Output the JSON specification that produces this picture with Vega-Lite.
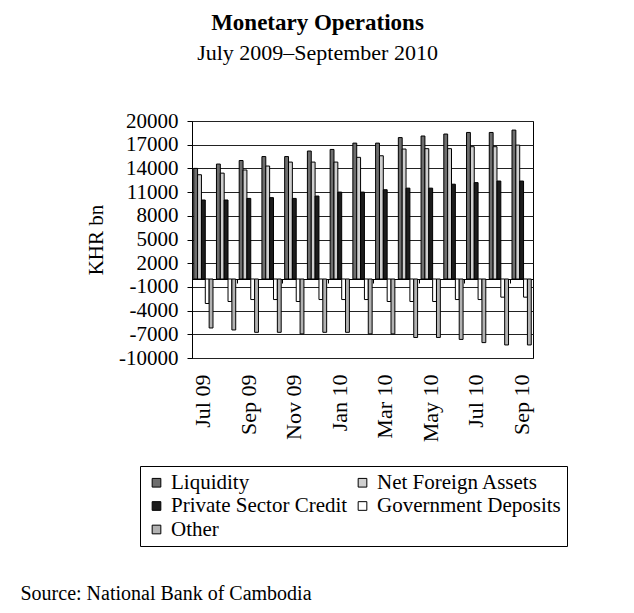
{
  "$schema": "https://vega.github.io/schema/vega-lite/v6.json",
  "autosize": {"type": "none"},
  "width": 341,
  "height": 237,
  "padding": {"left": 192, "top": 121, "right": 101, "bottom": 255},
  "background": "white",
  "config": {
    "font": "Liberation Serif",
    "view": {"stroke": "black", "strokeWidth": 1},
    "axis": {"labelColor": "black", "titleColor": "black", "labelFont": "Liberation Serif", "titleFont": "Liberation Serif"}
  },
  "title": {
    "text": "Monetary Operations",
    "subtitle": "July 2009\u2013September 2010",
    "font": "Liberation Serif",
    "fontSize": 23,
    "fontWeight": "bold",
    "color": "black",
    "subtitleFont": "Liberation Serif",
    "subtitleFontSize": 22,
    "subtitleColor": "black",
    "subtitlePadding": 8,
    "anchor": "middle",
    "dx": -45,
    "offset": 46
  },
  "data": {
    "values": [
      {"month": "Jul 09", "series": "Liquidity", "value": 14000},
      {"month": "Jul 09", "series": "Net Foreign Assets", "value": 13200},
      {"month": "Jul 09", "series": "Private Sector Credit", "value": 10000},
      {"month": "Jul 09", "series": "Government Deposits", "value": -3100},
      {"month": "Jul 09", "series": "Other", "value": -6200},
      {"month": "Aug 09", "series": "Liquidity", "value": 14550},
      {"month": "Aug 09", "series": "Net Foreign Assets", "value": 13400},
      {"month": "Aug 09", "series": "Private Sector Credit", "value": 10000},
      {"month": "Aug 09", "series": "Government Deposits", "value": -2850},
      {"month": "Aug 09", "series": "Other", "value": -6450},
      {"month": "Sep 09", "series": "Liquidity", "value": 15000},
      {"month": "Sep 09", "series": "Net Foreign Assets", "value": 13800},
      {"month": "Sep 09", "series": "Private Sector Credit", "value": 10200},
      {"month": "Sep 09", "series": "Government Deposits", "value": -2600},
      {"month": "Sep 09", "series": "Other", "value": -6750},
      {"month": "Oct 09", "series": "Liquidity", "value": 15500},
      {"month": "Oct 09", "series": "Net Foreign Assets", "value": 14300},
      {"month": "Oct 09", "series": "Private Sector Credit", "value": 10300},
      {"month": "Oct 09", "series": "Government Deposits", "value": -2600},
      {"month": "Oct 09", "series": "Other", "value": -6750},
      {"month": "Nov 09", "series": "Liquidity", "value": 15500},
      {"month": "Nov 09", "series": "Net Foreign Assets", "value": 14800},
      {"month": "Nov 09", "series": "Private Sector Credit", "value": 10200},
      {"month": "Nov 09", "series": "Government Deposits", "value": -2850},
      {"month": "Nov 09", "series": "Other", "value": -6950},
      {"month": "Dec 09", "series": "Liquidity", "value": 16200},
      {"month": "Dec 09", "series": "Net Foreign Assets", "value": 14800},
      {"month": "Dec 09", "series": "Private Sector Credit", "value": 10500},
      {"month": "Dec 09", "series": "Government Deposits", "value": -2600},
      {"month": "Dec 09", "series": "Other", "value": -6750},
      {"month": "Jan 10", "series": "Liquidity", "value": 16400},
      {"month": "Jan 10", "series": "Net Foreign Assets", "value": 14800},
      {"month": "Jan 10", "series": "Private Sector Credit", "value": 11000},
      {"month": "Jan 10", "series": "Government Deposits", "value": -2600},
      {"month": "Jan 10", "series": "Other", "value": -6750},
      {"month": "Feb 10", "series": "Liquidity", "value": 17200},
      {"month": "Feb 10", "series": "Net Foreign Assets", "value": 15400},
      {"month": "Feb 10", "series": "Private Sector Credit", "value": 11000},
      {"month": "Feb 10", "series": "Government Deposits", "value": -2600},
      {"month": "Feb 10", "series": "Other", "value": -6950},
      {"month": "Mar 10", "series": "Liquidity", "value": 17200},
      {"month": "Mar 10", "series": "Net Foreign Assets", "value": 15600},
      {"month": "Mar 10", "series": "Private Sector Credit", "value": 11300},
      {"month": "Mar 10", "series": "Government Deposits", "value": -2850},
      {"month": "Mar 10", "series": "Other", "value": -6950},
      {"month": "Apr 10", "series": "Liquidity", "value": 17900},
      {"month": "Apr 10", "series": "Net Foreign Assets", "value": 16450},
      {"month": "Apr 10", "series": "Private Sector Credit", "value": 11500},
      {"month": "Apr 10", "series": "Government Deposits", "value": -2850},
      {"month": "Apr 10", "series": "Other", "value": -7400},
      {"month": "May 10", "series": "Liquidity", "value": 18100},
      {"month": "May 10", "series": "Net Foreign Assets", "value": 16500},
      {"month": "May 10", "series": "Private Sector Credit", "value": 11500},
      {"month": "May 10", "series": "Government Deposits", "value": -2850},
      {"month": "May 10", "series": "Other", "value": -7400},
      {"month": "Jun 10", "series": "Liquidity", "value": 18350},
      {"month": "Jun 10", "series": "Net Foreign Assets", "value": 16500},
      {"month": "Jun 10", "series": "Private Sector Credit", "value": 12000},
      {"month": "Jun 10", "series": "Government Deposits", "value": -2600},
      {"month": "Jun 10", "series": "Other", "value": -7650},
      {"month": "Jul 10", "series": "Liquidity", "value": 18550},
      {"month": "Jul 10", "series": "Net Foreign Assets", "value": 16750},
      {"month": "Jul 10", "series": "Private Sector Credit", "value": 12200},
      {"month": "Jul 10", "series": "Government Deposits", "value": -2600},
      {"month": "Jul 10", "series": "Other", "value": -8050},
      {"month": "Aug 10", "series": "Liquidity", "value": 18550},
      {"month": "Aug 10", "series": "Net Foreign Assets", "value": 16750},
      {"month": "Aug 10", "series": "Private Sector Credit", "value": 12400},
      {"month": "Aug 10", "series": "Government Deposits", "value": -2300},
      {"month": "Aug 10", "series": "Other", "value": -8350},
      {"month": "Sep 10", "series": "Liquidity", "value": 18850},
      {"month": "Sep 10", "series": "Net Foreign Assets", "value": 16950},
      {"month": "Sep 10", "series": "Private Sector Credit", "value": 12400},
      {"month": "Sep 10", "series": "Government Deposits", "value": -2300},
      {"month": "Sep 10", "series": "Other", "value": -8350}
    ]
  },
  "resolve": {"axis": {"x": "independent"}},
  "layer": [
    {
      "mark": {"type": "bar", "stroke": "black", "strokeWidth": 1},
      "encoding": {
        "x": {
          "field": "month",
          "type": "ordinal",
          "sort": null,
          "scale": {"paddingInner": 0, "paddingOuter": 0},
          "axis": {
            "values": ["Jul 09", "Sep 09", "Nov 09", "Jan 10", "Mar 10", "May 10", "Jul 10", "Sep 10"],
            "labelAngle": -90,
            "labelAlign": "right",
            "labelBaseline": "middle",
            "labelFontSize": 22,
            "labelPadding": 16,
            "labelOverlap": false,
            "ticks": false,
            "domain": false,
            "title": "Source: National Bank of Cambodia",
            "titleFontSize": 20,
            "titleFontWeight": "normal",
            "titleAnchor": "start",
            "titleAlign": "left",
            "titleBaseline": "middle",
            "titleAngle": 0,
            "titleX": -172,
            "titleY": 235
          }
        },
        "xOffset": {
          "field": "series",
          "type": "nominal",
          "sort": ["Liquidity", "Net Foreign Assets", "Private Sector Credit", "Government Deposits", "Other"],
          "scale": {"paddingInner": 0, "paddingOuter": 0.45}
        },
        "y": {
          "field": "value",
          "type": "quantitative",
          "scale": {"domain": [-10000, 20000], "nice": false, "zero": false},
          "axis": {
            "values": [-10000, -7000, -4000, -1000, 2000, 5000, 8000, 11000, 14000, 17000, 20000],
            "tickCount": 30,
            "labelExpr": "'' + datum.value",
            "labelOverlap": false,
            "labelBound": false,
            "grid": true,
            "gridColor": "#222222",
            "gridWidth": 1,
            "tickSize": 5,
            "tickColor": "black",
            "domainColor": "black",
            "labelFontSize": 21,
            "labelPadding": 9,
            "title": "KHR bn",
            "titleFontSize": 21,
            "titleFontWeight": "normal",
            "titlePadding": 12
          }
        },
        "color": {
          "field": "series",
          "type": "nominal",
          "scale": {
            "domain": ["Liquidity", "Private Sector Credit", "Other", "Net Foreign Assets", "Government Deposits"],
            "range": ["#6e6e6e", "#1c1c1c", "#b2b2b2", "#cfcfcf", "#ffffff"]
          },
          "legend": {
            "orient": "none",
            "legendX": -52,
            "legendY": 345,
            "columns": 2,
            "title": null,
            "strokeColor": "black",
            "fillColor": "white",
            "padding": 6,
            "labelFont": "Liberation Serif",
            "labelFontSize": 21,
            "labelColor": "black",
            "labelLimit": 400,
            "symbolType": "square",
            "symbolSize": 75,
            "symbolStrokeColor": "black",
            "symbolStrokeWidth": 1,
            "symbolOpacity": 1,
            "rowPadding": 1.5,
            "columnPadding": 4
          }
        }
      }
    },
    {
      "mark": {"type": "tick", "opacity": 0},
      "encoding": {
        "x": {
          "field": "month",
          "type": "ordinal",
          "sort": null,
          "axis": {
            "orient": "bottom",
            "offset": -79,
            "values": ["Jul 09", "Sep 09", "Nov 09", "Jan 10", "Mar 10", "May 10", "Jul 10", "Sep 10"],
            "bandPosition": 0,
            "labels": false,
            "ticks": true,
            "tickSize": 4,
            "tickColor": "black",
            "domain": true,
            "domainColor": "black",
            "grid": false,
            "title": null
          }
        },
        "y": {"datum": 0}
      }
    }
  ]
}
